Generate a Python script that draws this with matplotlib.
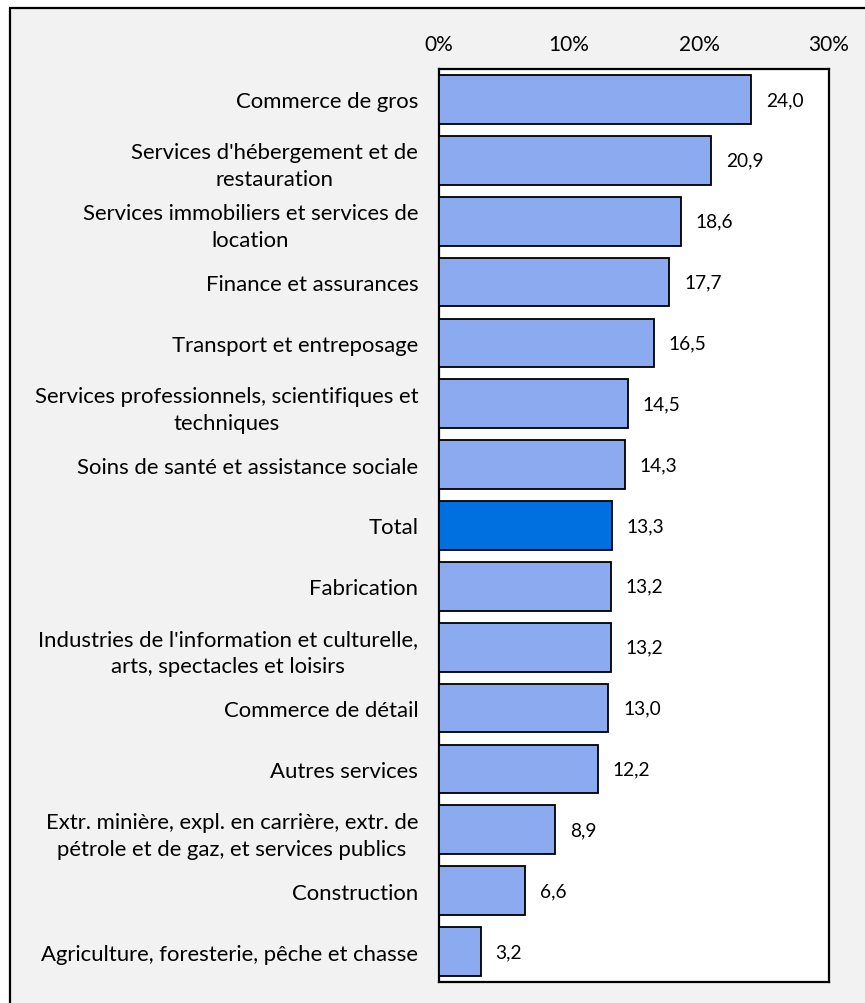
import matplotlib
matplotlib.use("Agg")
import matplotlib.pyplot as plt
from matplotlib.patches import Rectangle

categories = [
    "Commerce de gros",
    "Services d'hébergement et de\nrestauration",
    "Services immobiliers et services de\nlocation",
    "Finance et assurances",
    "Transport et entreposage",
    "Services professionnels, scientifiques et\ntechniques",
    "Soins de santé et assistance sociale",
    "Total",
    "Fabrication",
    "Industries de l'information et culturelle,\narts, spectacles et loisirs",
    "Commerce de détail",
    "Autres services",
    "Extr. minière, expl. en carrière, extr. de\npétrole et de gaz, et services publics",
    "Construction",
    "Agriculture, foresterie, pêche et chasse",
]
values = [24.0, 20.9, 18.6, 17.7, 16.5, 14.5, 14.3, 13.3, 13.2, 13.2, 13.0, 12.2, 8.9, 6.6, 3.2]
xticks = [0, 10, 20, 30]
xticklabels = ["0%", "10%", "20%", "30%"]

plt.rcParams['font.family'] = ['Lato', 'DejaVu Sans']
FS_CAT = 15.9
FS_TICK = 15.0
FS_VAL = 13.8

W, H = 865, 1004
fig = plt.figure(figsize=(W / 100, H / 100), dpi=100)
fig.patch.set_facecolor('white')
# chart area background with border (left/top visible)
bg = Rectangle((10 / W, -0.05), 1.1, (H - 9) / H + 0.05, transform=fig.transFigure,
               facecolor='#F2F2F2', edgecolor='black', linewidth=1.6, zorder=-10)
fig.patches.append(bg)

ax = fig.add_axes([439 / W, (H - 983) / H, (829 - 439) / W, (983 - 70) / H])
ax.set_facecolor('white')

colors = ['#0070E0' if c == 'Total' else '#8CAAF0' for c in categories]
y = list(range(len(categories)))
ax.barh(y, values, height=0.8, color=colors, edgecolor='black', linewidth=1.3, zorder=3)
ax.set_xlim(0, 30)
ax.set_ylim(len(categories) - 0.5, -0.5)

ax.xaxis.tick_top()
ax.set_xticks(xticks)
ax.set_xticklabels(xticklabels, fontsize=FS_TICK)
ax.tick_params(axis='x', length=0, pad=11)
ax.set_yticks(y)
ax.set_yticklabels(categories, fontsize=FS_CAT, multialignment='center', linespacing=1.45)
ax.tick_params(axis='y', length=0, pad=15)

for sp in ax.spines.values():
    sp.set_linewidth(1.6)
    sp.set_color('black')

for yi, v in zip(y, values):
    ax.annotate(f"{v:.1f}".replace('.', ','), (v, yi), xytext=(15, 0),
                textcoords='offset pixels', va='center', ha='left', fontsize=FS_VAL)

fig.savefig('out.png', dpi=100, facecolor=fig.get_facecolor())
